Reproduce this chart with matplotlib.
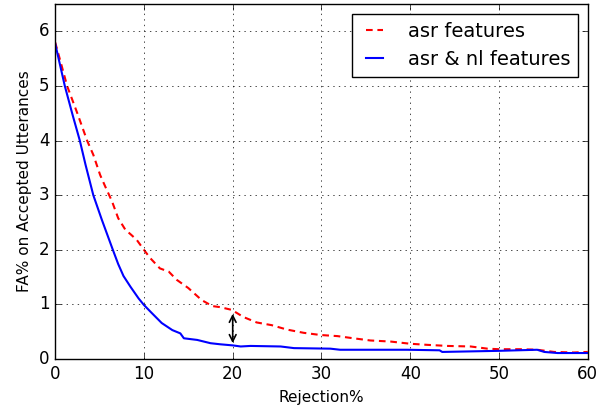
import matplotlib
matplotlib.use("Agg")
import matplotlib.pyplot as plt

plt.style.use("classic")

# asr features only (red dashed)
asr_x = [0, 0.6, 1.35, 2.5, 3.6, 4.3, 5.07, 5.64, 6.4, 7.1, 7.9, 8.6, 9.2, 10.0, 10.7,
         11.8, 12.8, 13.7, 15.0, 16.5, 17.7, 18.6, 19.9, 21.2, 22.7, 24.4, 26.1,
         28.0, 29.9, 31.8, 33.6, 35.5, 37.8, 40.0, 41.9, 44.2, 46.8, 48.7, 50.0,
         52.4, 54.3, 56.2, 58.4, 60.0]
asr_y = [5.8, 5.45, 5.0, 4.5, 4.0, 3.74, 3.37, 3.16, 2.89, 2.58, 2.37, 2.27, 2.18, 2.0, 1.85,
         1.66, 1.6, 1.45, 1.3, 1.08, 0.97, 0.95, 0.9, 0.77, 0.67, 0.62, 0.54,
         0.48, 0.44, 0.42, 0.38, 0.34, 0.32, 0.28, 0.26, 0.24, 0.23, 0.19, 0.18,
         0.18, 0.17, 0.13, 0.12, 0.13]

# asr & nl features (blue solid)
nl_x = [0, 1.09, 2.0, 2.78, 3.42, 4.3, 5.26, 6.5, 7.1, 7.7, 8.5, 9.4, 10.0, 10.9,
        12.0, 13.2, 14.1, 14.5, 16.0, 17.5, 18.6, 20.0, 20.9, 22.0, 25.4, 26.9,
        31.0, 32.1, 39.6, 43.3, 43.6, 49.9, 54.3, 55.1, 56.6, 60.0]
nl_y = [5.78, 5.0, 4.45, 4.0, 3.56, 3.0, 2.55, 2.0, 1.74, 1.52, 1.32, 1.11, 0.99, 0.84,
        0.66, 0.53, 0.47, 0.38, 0.35, 0.29, 0.27, 0.25, 0.23, 0.24, 0.23, 0.2,
        0.19, 0.17, 0.17, 0.16, 0.13, 0.15, 0.17, 0.13, 0.11, 0.11]

gap_x = 20
gap_lo = 0.24
gap_hi = 0.88

fig = plt.figure(figsize=(6.06, 4.08), dpi=100, facecolor="white")
ax = fig.add_axes([0.091, 0.12, 0.879, 0.87])

ax.plot(asr_x, asr_y, "r--", lw=1.5, dashes=(4.8, 3.4), label="asr features")
ax.plot(nl_x, nl_y, "b-", lw=1.5, label="asr & nl features")
ax.annotate("", xy=(gap_x, gap_lo), xytext=(gap_x, gap_hi),
            arrowprops=dict(arrowstyle="<->", color="black", lw=1.2))

ax.set_xlim(0, 60)
ax.set_ylim(0, 6.5)
ax.set_xticks([0, 10, 20, 30, 40, 50, 60])
ax.set_yticks([0, 1, 2, 3, 4, 5, 6])
ax.tick_params(labelsize=12)
ax.grid(True)
ax.set_xlabel("Rejection%", fontsize=11)
ax.set_ylabel("FA% on Accepted Utterances", fontsize=11)
ax.legend(loc="upper right", fontsize=14, handlelength=1.45, handletextpad=1.0)

fig.savefig("out.png", dpi=100, facecolor="white")
